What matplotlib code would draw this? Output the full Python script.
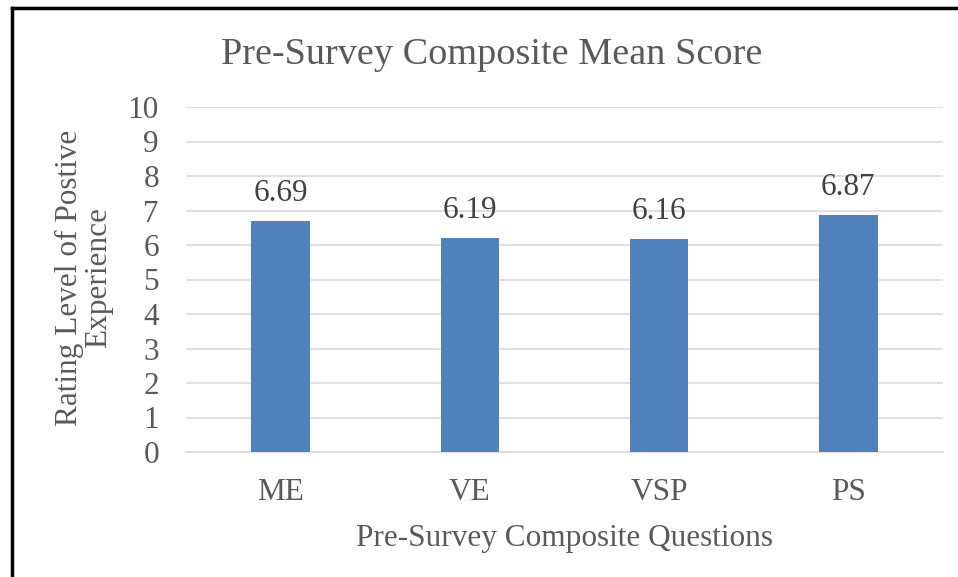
import matplotlib.pyplot as plt
from matplotlib.lines import Line2D

categories = ['ME', 'VE', 'VSP', 'PS']
scores = [6.69, 6.19, 6.16, 6.87]
yticks = [0, 1, 2, 3, 4, 5, 6, 7, 8, 9, 10]

plt.rcParams['font.family'] = ['Liberation Serif', 'DejaVu Serif']
grey = '#595959'

fig = plt.figure(figsize=(9.58, 5.77), dpi=100)
ax = fig.add_axes([186/958, 1 - 452/577, (943-186)/958, (452-107)/577])

x = range(len(categories))
bars = ax.bar(x, scores, width=0.31, color='#4F81BD', zorder=3)
for b, v in zip(bars, scores):
    ax.text(b.get_x() + b.get_width()/2, v + 0.38, '{:.2f}'.format(v),
            ha='center', va='bottom', fontsize=22.5, color='#404040')

ax.set_xlim(-0.5, len(categories) - 0.5)
ax.set_ylim(0, 10)
ax.set_yticks(yticks)
ax.set_xticks(list(x))
ax.set_xticklabels(categories)
ax.tick_params(axis='both', length=0, labelsize=22.5, colors=grey)
ax.tick_params(axis='y', pad=19.5)
ax.tick_params(axis='x', pad=19)
ax.grid(axis='y', color='#D9D9D9', lw=1.2, zorder=0)
for s in ['top', 'right', 'left']:
    ax.spines[s].set_visible(False)
ax.spines['bottom'].set_color('#D9D9D9')
ax.spines['bottom'].set_linewidth(1.2)

ax.set_xlabel('Pre-Survey Composite Questions', fontsize=22.5, color=grey, labelpad=12)
fig.text(84/958, 1 - 278/577, 'Rating Level of Postive\nExperience', rotation=90,
         ha='center', va='center', fontsize=22.5, color=grey, linespacing=1.0)
fig.text(492/958, 1 - 55/577, 'Pre-Survey Composite Mean Score', ha='center', va='center',
         fontsize=27.5, color=grey)

# frame lines (left and top only, as cropped)
fig.add_artist(Line2D([12/958, 12/958], [0, 1 - 8/577], transform=fig.transFigure, color='black', lw=2.5))
fig.add_artist(Line2D([12/958, 1], [1 - 8/577, 1 - 8/577], transform=fig.transFigure, color='black', lw=2.5))

fig.savefig('out.png', dpi=100)
